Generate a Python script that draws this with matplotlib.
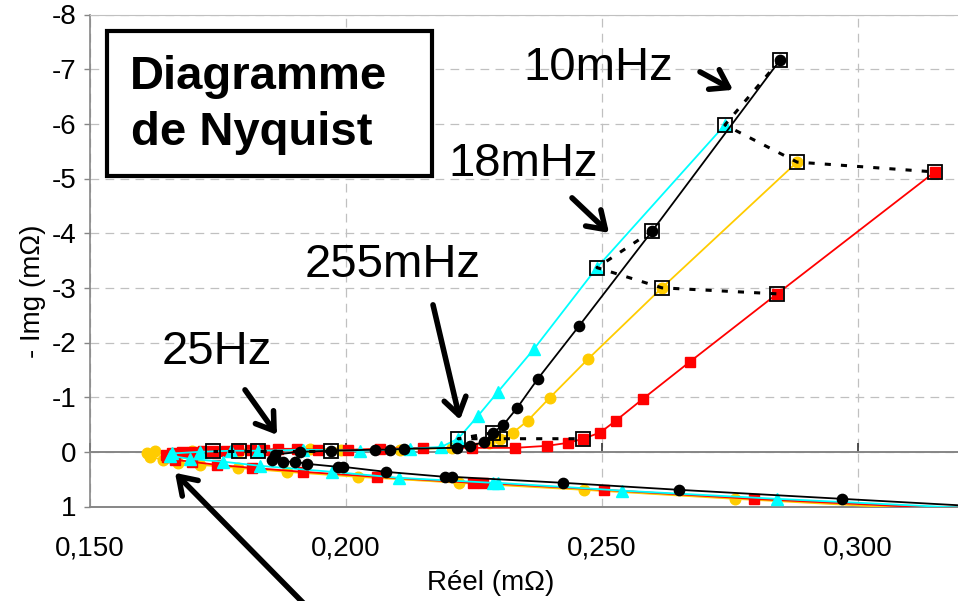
import matplotlib
matplotlib.use("Agg")
import matplotlib.pyplot as plt
from matplotlib.patches import Rectangle

plt.rcParams['font.family'] = ['Liberation Sans', 'DejaVu Sans']
plt.rcParams['axes.unicode_minus'] = False

# ---------------- data (Réel mΩ, Img mΩ), from high frequency to low ----------------
black_x = [0.325, 0.2969, 0.2650, 0.2424, 0.2207, 0.2193, 0.2078, 0.1994, 0.1984, 0.1924,
           0.1900, 0.1877, 0.1855, 0.1861, 0.1910, 0.1971, 0.2057, 0.2086, 0.2113, 0.2217,
           0.2242, 0.2270, 0.2287, 0.2307, 0.2334, 0.2375, 0.2455, 0.2598, 0.2848]
black_y = [1.005, 0.86, 0.695, 0.567, 0.457, 0.457, 0.366, 0.274, 0.274, 0.22,
           0.18, 0.18, 0.146, 0.05, 0.0, -0.02, -0.04, -0.04, -0.055, -0.075,
           -0.11, -0.18, -0.35, -0.49, -0.80, -1.34, -2.30, -4.04, -7.17]

cyan_x = [0.325, 0.2842, 0.2539, 0.2297, 0.2287, 0.2104, 0.1973, 0.1832, 0.1760, 0.1695,
          0.1656, 0.1660, 0.1715, 0.1775, 0.1828, 0.1916, 0.2027, 0.2125, 0.2186, 0.2219,
          0.2258, 0.2297, 0.2367, 0.2490, 0.2740]
cyan_y = [1.045, 0.86, 0.71, 0.567, 0.567, 0.476, 0.366, 0.256, 0.18, 0.13,
          0.07, 0.03, 0.0, -0.02, -0.02, -0.037, -0.02, -0.055, -0.09, -0.24,
          -0.66, -1.10, -1.88, -3.37, -5.98]

yellow_x = [0.325, 0.2760, 0.2465, 0.2221, 0.2023, 0.1885, 0.1789, 0.1715, 0.1672, 0.1643,
            0.1617, 0.1612, 0.1627, 0.1700, 0.1791, 0.1930, 0.1990, 0.2105, 0.2207, 0.2279,
            0.2301, 0.2326, 0.2355, 0.2398, 0.2473, 0.2617, 0.2881]
yellow_y = [1.105, 0.86, 0.695, 0.567, 0.457, 0.366, 0.293, 0.238, 0.20, 0.146,
            0.09, 0.03, -0.01, -0.02, -0.02, -0.055, -0.037, -0.04, -0.073, -0.165,
            -0.24, -0.35, -0.57, -0.99, -1.70, -3.00, -5.30]

red_x = [0.325, 0.2797, 0.2504, 0.2268, 0.2248, 0.2061, 0.1916, 0.1816, 0.1748, 0.1699,
         0.1666, 0.1650, 0.1648, 0.1660, 0.1680, 0.1700, 0.1720, 0.1740, 0.1765, 0.1790,
         0.1815, 0.1840, 0.1867, 0.1904, 0.1945, 0.2004, 0.2066, 0.2150, 0.2246, 0.2330,
         0.2393, 0.2434, 0.2463, 0.2496, 0.2527, 0.2580, 0.2672, 0.2842, 0.3150]
red_y = [1.07, 0.86, 0.695, 0.567, 0.567, 0.457, 0.366, 0.293, 0.238, 0.183,
         0.146, 0.10, 0.05, 0.02, 0.0, 0.0, -0.01, -0.02, -0.02, -0.03,
         -0.03, -0.04, -0.055, -0.055, -0.037, -0.037, -0.055, -0.073, -0.073, -0.073,
         -0.11, -0.165, -0.24, -0.35, -0.57, -0.97, -1.65, -2.89, -5.12]

# indices of the marked frequencies (25Hz, 255mHz, 18mHz, 10mHz) in each series
freq_names = ["25Hz", "255mHz", "18mHz", "10mHz"]
black_idx = [15, 22, 27, 28]
cyan_idx = [14, 19, 23, 24]
yellow_idx = [14, 20, 25, 26]
red_idx = [17, 32, 37, 38]

x_ticks = [0.150, 0.200, 0.250, 0.300]
x_ticklabels = ["0,150", "0,200", "0,250", "0,300"]
y_ticks = [-8, -7, -6, -5, -4, -3, -2, -1, 0, 1]
y_ticklabels = ["-8", "-7", "-6", "-5", "-4", "-3", "-2", "-1", "0", "1"]

# ---------------- figure ----------------
W, H = 958, 601
fig = plt.figure(figsize=(W / 100, H / 100), dpi=100)
L, R, T, B = 90, 960, 14.5, 506.5
ax = fig.add_axes([L / W, (H - B) / H, (R - L) / W, (B - T) / H])

ax.set_xlim(0.150, 0.150 + (R - L) / 5120)
ax.set_ylim(1, -8)
ax.set_xticks(x_ticks)
ax.set_xticklabels(x_ticklabels)
ax.set_yticks(y_ticks)
ax.set_yticklabels(y_ticklabels)

gray = '#868686'
ax.set_axisbelow(True)
ax.grid(True, color='#C0C0C0', linestyle=(0, (7, 5)), linewidth=0.9)
ax.spines['right'].set_visible(False)
ax.spines['top'].set_color('#C0C0C0')
ax.spines['top'].set_linewidth(0.8)
ax.spines['left'].set_color(gray)
ax.spines['left'].set_linewidth(1.2)
ax.spines['bottom'].set_position(('data', 0))
ax.spines['bottom'].set_color(gray)
ax.spines['bottom'].set_linewidth(1.4)
ax.axhline(1, color=gray, lw=1.4, clip_on=False, zorder=1)

ax.tick_params(axis='x', direction='in', length=6.5, width=1.2, color='#333333',
               labelsize=20, pad=60)
ax.tick_params(axis='y', direction='out', length=4, width=1.0, color=gray,
               labelsize=20, pad=6)

series = [
    (yellow_x, yellow_y, '#FFCC00', 'o', 7.6, yellow_idx),
    (red_x, red_y, '#FF0000', 's', 7.2, red_idx),
    (cyan_x, cyan_y, '#00FFFF', '^', 8.0, cyan_idx),
    (black_x, black_y, '#000000', 'o', 7.4, black_idx),
]
for xs, ys, c, m, ms, _ in series:
    ax.plot(xs, ys, color=c, lw=1.3, marker=m, ms=ms, mec=c, mfc=c, zorder=3)

# dotted lines joining equal frequencies (order: black, cyan, yellow, red) + boxes
order = [(black_x, black_y, black_idx), (cyan_x, cyan_y, cyan_idx),
         (yellow_x, yellow_y, yellow_idx), (red_x, red_y, red_idx)]
for k in range(len(freq_names)):
    fx = [xs[idx[k]] for xs, ys, idx in order]
    fy = [ys[idx[k]] for xs, ys, idx in order]
    ax.plot(fx, fy, color='black', lw=2.2, linestyle=(0, (2, 3.3)),
            dash_capstyle='butt', zorder=4)
    ax.plot(fx, fy, linestyle='none', marker='s', ms=10.5, mfc='none', mec='black',
            mew=1.3, zorder=5)

ax.set_xlabel('Réel (mΩ)', fontsize=20)
ax.xaxis.set_label_coords((491 - L) / (R - L), (B - 570) / (B - T))
ax.set_ylabel('- Img (mΩ)', fontsize=20)
ax.yaxis.set_label_coords((46 - L) / (R - L), (B - 291) / (B - T))

# title box
ax.add_patch(Rectangle(((107 - L) / (R - L), (B - 176) / (B - T)),
                       (432 - 107) / (R - L), (176 - 31) / (B - T),
                       transform=ax.transAxes, facecolor='white', edgecolor='black',
                       lw=3, zorder=6, clip_on=False))
ax.text((130 - L) / (R - L), (B - 89) / (B - T), 'Diagramme', transform=ax.transAxes,
        fontsize=34, fontweight='bold', ha='left', va='baseline', zorder=7)
ax.text((131 - L) / (R - L), (B - 145) / (B - T), 'de Nyquist', transform=ax.transAxes,
        fontsize=34, fontweight='bold', ha='left', va='baseline', zorder=7)

# annotations
def px2d(px, py):
    return 0.150 + (px - L) / 5120, (py - 452) / 54.67

labels = [("10mHz", 598, 80), ("18mHz", 523, 176), ("255mHz", 393, 277), ("25Hz", 217, 364)]
for txt, px, py in labels:
    x, y = px2d(px, py)
    ax.text(x, y, txt, fontsize=34, ha='center', va='baseline', zorder=7)

arrows = [((700, 72), (733, 90)), ((572, 198), (609, 233)), ((433, 305), (460, 420)),
          ((245, 390), (277, 435)), ((312, 612), (175, 473))]
for tail, head in arrows:
    ax.annotate('', xy=px2d(*head), xytext=px2d(*tail), annotation_clip=False,
                arrowprops=dict(arrowstyle='->,head_length=0.6,head_width=0.4',
                                lw=4, color='black', shrinkA=0, shrinkB=0,
                                mutation_scale=20), zorder=7)

fig.savefig('out.png', dpi=100)
